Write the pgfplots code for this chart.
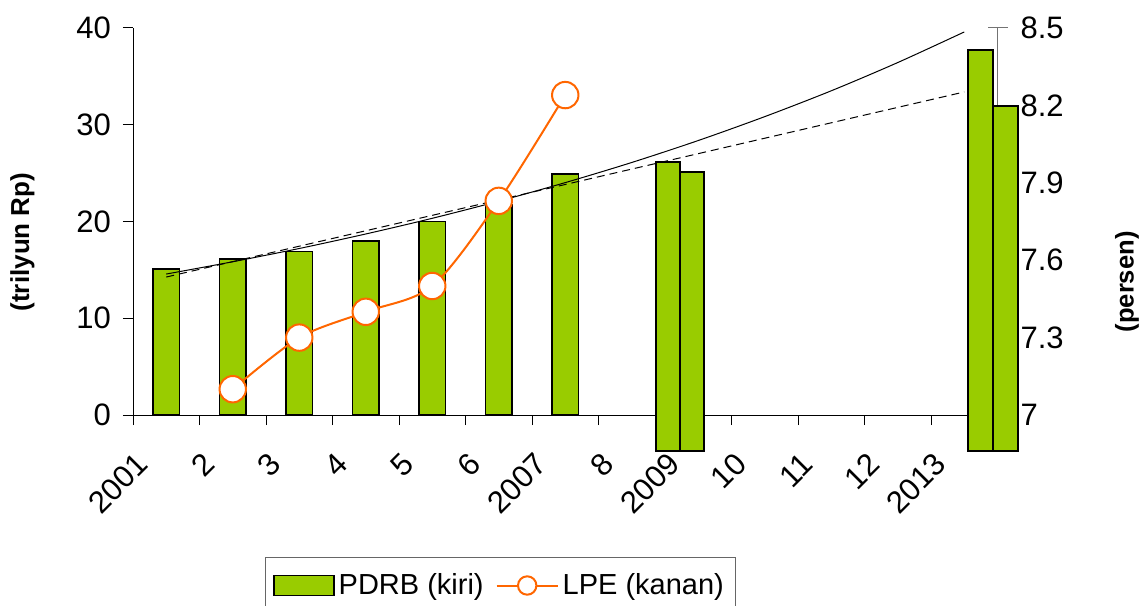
\documentclass[border=0pt]{standalone}
\usepackage{fontspec}
\setmainfont{Liberation Sans}
\usepackage{pgfplots}
\pgfplotsset{compat=1.18}
\definecolor{pdrb}{HTML}{99CC00}
\definecolor{lpe}{HTML}{FF6600}
\begin{document}
\begin{tikzpicture}
\pgfplotsset{
  base/.style={scale only axis, width=432.25pt, height=193.5pt, xmin=0, xmax=13, clip=false,
    /pgf/number format/assume math mode=true,
    tick label style={font=\fontsize{15.5}{18}\selectfont},
  },
}
% right axis (drawn first so the bars cover it)
\begin{axis}[base, ymin=7, ymax=8.5, axis x line=none, axis y line*=right,
  ytick={7,7.3,7.6,7.9,8.2,8.5}, tick align=center, major tick length=10pt,
  y axis line style={black!55, line width=0.5pt, -}, ytick style={black!55, line width=0.5pt},
  yticklabel style={anchor=west, xshift=3pt},
  every axis y label/.style={at={(axis description cs:1.1498,0.344)}, rotate=90, anchor=center, font=\bfseries\fontsize{12.8}{15}\selectfont},
  ylabel={(persen)}]
\end{axis}
% left axis with bars and trend lines
\begin{axis}[base, ymin=0, ymax=40, axis x line*=bottom, axis y line*=left,
  axis line style={line width=0.5pt, -},
  ytick={0,10,20,30,40}, xtick={0,...,13}, xticklabels={},
  tick align=outside, major tick length=5pt, tick style={line width=0.5pt, black},
  yticklabel style={xshift=-2.5pt},
  extra x ticks={0.5,1.5,2.5,3.5,4.5,5.5,6.5,7.5,8.5,9.5,10.5,11.5,12.5},
  extra x tick labels={2001,2,3,4,5,6,2007,8,2009,10,11,12,2013},
  extra x tick style={major tick length=0pt},
  xticklabel style={xshift=-9.5pt, yshift=-19.5pt, rotate=45, anchor=east},
  every axis y label/.style={at={(axis description cs:-0.1278,0.447)}, rotate=90, anchor=center, font=\bfseries\fontsize{13}{15}\selectfont},
  ylabel={(trilyun Rp)}]
\addplot[ybar, bar width=0.4, fill=pdrb, draw=black, line width=0.8pt]
  coordinates {(0.5,15.1) (1.5,16.1) (2.5,16.9) (3.5,18.0) (4.5,20.0) (5.5,21.7) (6.5,24.9)};
\addplot[fill=pdrb, draw=black, line width=0.8pt] coordinates {(7.865,-3.72) (7.865,26.15) (8.226,26.15) (8.226,-3.72)} -- cycle;
\addplot[fill=pdrb, draw=black, line width=0.8pt] coordinates {(8.226,-3.72) (8.226,25.1) (8.586,25.1) (8.586,-3.72)} -- cycle;
\addplot[fill=pdrb, draw=black, line width=0.8pt] coordinates {(12.556,-3.72) (12.556,37.73) (12.932,37.73) (12.932,-3.72)} -- cycle;
\addplot[fill=pdrb, draw=black, line width=0.8pt] coordinates {(12.932,-3.72) (12.932,31.94) (13.308,31.94) (13.308,-3.72)} -- cycle;
% trend lines
\addplot[black, line width=0.5pt, smooth] coordinates {(0.5,14.57) (1.5,15.84) (2.5,17.21) (3.5,18.71) (4.5,20.33) (5.5,22.10) (6.5,24.02) (7.5,26.10) (8.5,28.37) (9.5,30.84) (10.5,33.51) (11.5,36.43) (12.5,39.59)};
\addplot[black, line width=0.5pt, dash pattern=on 4pt off 2.5pt] coordinates {(0.5,14.26) (12.5,33.39)};
\end{axis}
% LPE on the right scale
\begin{axis}[base, ymin=7, ymax=8.5, hide axis,
  legend columns=2,
  legend style={at={(axis description cs:0.4251,-0.3669)}, anchor=north, draw=black!60, line width=0.5pt,
    inner xsep=4pt, inner ysep=6pt,
    font=\fontsize{14.5}{17}\selectfont, /tikz/every even column/.append style={column sep=4pt}}]
\addlegendimage{legend image code/.code={\draw[fill=pdrb, draw=black, line width=0.8pt] (0pt,-5pt) rectangle (30pt,5pt);}}
\addlegendentry{PDRB (kiri)}
\addplot[lpe, line width=1pt, smooth, mark=*, mark size=6.6pt, mark options={fill=white, draw=lpe, line width=1pt},
  legend image code/.code={\draw[lpe, line width=1pt] (0pt,0pt) -- (30.5pt,0pt); \draw[lpe, line width=1pt, fill=white] (15.25pt,0pt) circle (4.6pt);}]
  coordinates {(1.5,7.10) (2.5,7.30) (3.5,7.40) (4.5,7.50) (5.5,7.83) (6.5,8.24)};
\addlegendentry{LPE (kanan)}
\end{axis}
\pgfresetboundingbox
\path[use as bounding box] (-66.5pt,-95pt) rectangle (505pt,207.5pt);
\end{tikzpicture}
\end{document}
